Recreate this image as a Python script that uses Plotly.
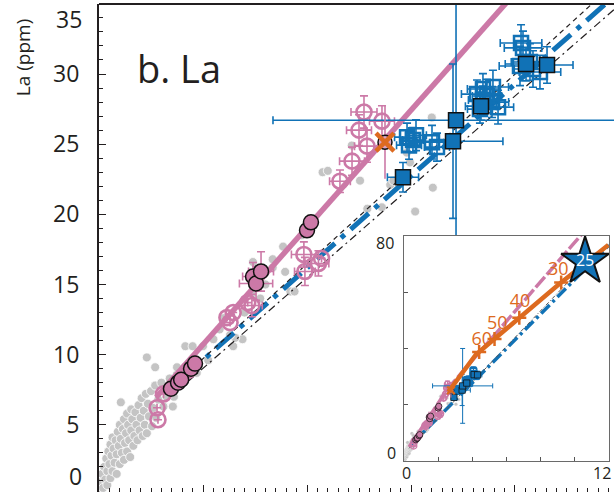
import plotly.graph_objects as go

PINK = "#CC79A7"
BLUE = "#1172B6"
ORANGE = "#DD6A1F"
GRAY = "#C4C4C4"
INK = "#231F20"
FONT = "Open Sans"

# ---------------- data (main panel, x arbitrary units, y = La ppm) ----------------
gray_x = [0.01, 0.02, 0.03, 0.04, 0.05, 0.06, 0.07, 0.08, 0.08, 0.09,
          0.10, 0.11, 0.11, 0.12, 0.13, 0.13, 0.14, 0.15, 0.16, 0.17,
          0.17, 0.18, 0.19, 0.20, 0.20, 0.21, 0.22, 0.23, 0.24, 0.24,
          0.25, 0.26, 0.27, 0.27, 0.28, 0.29, 0.30, 0.31, 0.31, 0.32,
          0.33, 0.34, 0.35, 0.36, 0.37, 0.38, 0.39, 0.40, 0.41, 0.42,
          0.43, 0.44, 0.45, 0.46, 0.47, 0.48, 0.50, 0.51, 0.52, 0.54,
          0.55, 0.57, 0.60, 0.62, 0.21, 0.65, 0.68, 0.72, 0.75, 0.80,
          0.46, 0.54, 0.75, 0.83, 0.90, 1.00, 1.10, 1.16, 1.29, 1.38,
          1.31, 1.26, 1.67, 1.67, 1.79, 1.84, 1.88, 1.48, 1.77, 1.48,
          2.43, 2.15, 2.20, 2.51, 2.96, 2.99, 2.80, 2.83, 2.58, 2.72,
          3.04, 3.21, 3.20, 0.94, 0.78, 0.65, 0.71, 1.40, 1.55, 1.60,
          1.95, 1.05, 1.20]
gray_y = [0.3, 0.9, 1.5, 0.5, 2.0, 1.1, 2.6, 0.7, 1.7, 3.1,
          2.2, 1.2, 3.6, 2.8, 1.7, 4.1, 3.3, 2.3, 3.9, 1.5,
          2.9, 4.5, 3.5, 2.2, 5.0, 4.0, 3.0, 4.7, 2.5, 5.4,
          3.7, 4.4, 3.1, 5.8, 5.0, 3.9, 2.7, 4.6, 6.1, 5.4,
          3.5, 4.2, 5.9, 5.0, 3.9, 6.4, 4.6, 5.5, 6.9, 4.2,
          6.0, 5.0, 7.2, 4.4, 6.5, 5.6, 7.4, 4.9, 6.2, 7.8,
          5.5, 6.8, 8.0, 6.3, 6.6, 7.2, 8.3, 7.0, 8.6, 8.2,
          9.8, 9.1, 9.1, 10.6, 10.6, 10.6, 11.1, 11.8, 10.6, 11.1,
          11.2, 11.4, 16.2, 16.8, 15.9, 14.5, 14.5, 14.4, 17.7, 16.6,
          24.9, 23.0, 23.1, 22.4, 24.4, 23.7, 22.1, 22.4, 20.4, 20.5,
          20.2, 21.9, 26.9, 8.7, 8.4, 7.0, 6.3, 13.0, 14.0, 15.0,
          18.5, 9.6, 12.6]

# pink open circles
po_x = [0.558, 0.567, 0.62, 0.86, 1.23, 1.29, 1.26, 1.47, 1.43, 1.97,
        1.98, 2.11, 2.14, 2.548, 2.721, 2.50, 2.577, 2.433, 2.317]
po_y = [6.21, 5.36, 7.2, 8.9, 12.64, 13.0, 12.29, 13.5, 13.71, 17.14,
        15.93, 16.5, 16.86, 27.29, 26.64, 26.0, 24.86, 23.79, 22.36]
po_ex = [0, 0, 0, 0, 0, 0, 0, 0.1, 0, 0.12,
         0.1, 0.1, 0, 0.125, 0.12, 0.12, 0.12, 0.12, 0.1]
po_ey = [0, 0, 0, 0, 0, 0, 0, 0.8, 0, 0.9,
         1.0, 0.9, 0, 1.15, 1.1, 1.1, 1.15, 1.0, 0.8]

# pink filled circles (black edge)
pf_x = [0.692, 0.76, 0.79, 0.885, 0.923, 1.481, 1.51, 1.558, 2.0, 2.038]
pf_y = [7.57, 8.0, 8.21, 9.0, 9.36, 15.57, 15.07, 15.93, 18.86, 19.43]
pf_ex = [0, 0, 0, 0, 0, 0.1, 0.16, 0.12, 0, 0]
pf_ey = [0, 0, 0, 0, 0, 1.0, 1.2, 1.4, 0, 0]

# mixing end-member (orange cross)
mix_x = [2.75]
mix_y = [25.14]
mix_ey = [2.6]

# blue filled squares
bf_x = [2.923, 3.404, 3.433, 3.673, 4.106, 4.308]
bf_y = [22.64, 25.21, 26.71, 27.71, 30.71, 30.64]
bf_ex = [0.15, 0.48, 1.76, 0.15, 0.2, 0.25]
bf_ey = [1.05, 5.5, 13.3, 1.0, 1.2, 1.3]

# blue open squares
bo_x = [2.962, 3.019, 2.981, 3.048, 3.202, 3.25,
        3.692, 3.635, 3.731, 3.779, 3.837, 3.692, 3.788, 3.663,
        4.058, 4.077, 4.048, 4.173, 4.24, 4.144]
bo_y = [25.5, 25.29, 24.93, 25.64, 25.14, 24.79,
        28.93, 28.57, 28.43, 28.0, 27.64, 28.14, 29.07, 27.5,
        32.21, 31.86, 30.57, 30.36, 30.14, 30.86]
bo_ex = [0.12, 0.1, 0.12, 0.1, 0.14, 0.12,
         0.15, 0.15, 0.14, 0.16, 0.15, 0.14, 0.15, 0.12,
         0.2, 0.18, 0.2, 0.18, 0.2, 0.18]
bo_ey = [1.0, 0.9, 1.0, 1.1, 1.2, 1.0,
         1.1, 1.0, 1.2, 1.1, 1.2, 1.0, 1.2, 1.0,
         1.3, 1.2, 1.4, 1.3, 1.2, 1.3]

# model lines (main panel)
pink_line_x = [0.55, 4.0]
pink_line_y = [6.96, 35.77]
blue_line_x = [0.8, 5.0]
blue_line_y = [8.3, 35.85]
blk1_x = [0.85, 4.8]
blk1_y = [8.7, 35.4]
blk2_x = [0.85, 5.0]
blk2_y = [8.05, 34.9]

# inset lines
in_pink_x = [0.3, 2.6, 5.4, 10.3, 10.6]
in_pink_y = [5.0, 26.0, 45.5, 80.0, 82.0]
in_blue_x = [0.45, 12.0]
in_blue_y = [6.0, 76.8]
in_blk_x = [0.3, 11.0]
in_blk_y = [4.5, 72.5]
orange_x = [2.6, 4.2, 6.0, 9.0, 11.96]
orange_y = [24.6, 37.8, 47.0, 62.5, 76.8]
orange_mark_x = [4.4, 5.3, 6.75, 9.2]
orange_mark_y = [38.8, 43.4, 50.9, 63.5]
orange_lab_x = [4.55, 5.46, 6.79, 9.03]
orange_lab_y = [43.0, 48.4, 56.3, 67.7]
orange_labels = ["60", "50", "40", "30"]
star_x = [10.6]
star_y = [70.9]
star_label = ["25"]

fig = go.Figure()


def add_gray(xa, ya, s, lw_scale):
    fig.add_trace(go.Scatter(x=gray_x, y=gray_y, mode="markers", xaxis=xa, yaxis=ya,
                             marker=dict(color=GRAY, size=9 * s, line=dict(color="white", width=0.8 * lw_scale)),
                             showlegend=False, hoverinfo="skip"))


def add_lines_main():
    fig.add_trace(go.Scatter(x=pink_line_x, y=pink_line_y, mode="lines",
                             line=dict(color=PINK, width=5.5), showlegend=False, hoverinfo="skip"))
    fig.add_trace(go.Scatter(x=blue_line_x, y=blue_line_y, mode="lines",
                             line=dict(color=BLUE, width=5, dash="24px,8px,5px,8px"),
                             showlegend=False, hoverinfo="skip"))
    fig.add_trace(go.Scatter(x=blk1_x, y=blk1_y, mode="lines",
                             line=dict(color=INK, width=1.2, dash="5px,4px"),
                             showlegend=False, hoverinfo="skip"))
    fig.add_trace(go.Scatter(x=blk2_x, y=blk2_y, mode="lines",
                             line=dict(color=INK, width=1.2, dash="8px,4px,2px,4px"),
                             showlegend=False, hoverinfo="skip"))


def add_lines_inset():
    kw = dict(xaxis="x2", yaxis="y2", showlegend=False, hoverinfo="skip", mode="lines")
    fig.add_trace(go.Scatter(x=in_pink_x, y=in_pink_y, line=dict(color=PINK, width=3.5, dash="14px,3px"), **kw))
    fig.add_trace(go.Scatter(x=in_blue_x, y=in_blue_y, line=dict(color=BLUE, width=3.5, dash="12px,4px,3px,4px"), **kw))
    fig.add_trace(go.Scatter(x=in_blk_x, y=in_blk_y, line=dict(color="#555555", width=1, dash="4px,2px,1px,2px"), **kw))


def add_points(xa, ya, s, lw_scale, ebw, cap):
    kw = dict(xaxis=xa, yaxis=ya, mode="markers", showlegend=False, hoverinfo="skip")
    fig.add_trace(go.Scatter(x=bo_x, y=bo_y,
                             error_x=dict(type="data", array=bo_ex, color=BLUE, thickness=ebw, width=cap),
                             error_y=dict(type="data", array=bo_ey, color=BLUE, thickness=ebw, width=cap),
                             marker=dict(symbol="square-open", color=BLUE, size=14 * s,
                                         line=dict(color=BLUE, width=2.5 * lw_scale)), **kw))
    fig.add_trace(go.Scatter(x=po_x, y=po_y,
                             error_x=dict(type="data", array=po_ex, color=PINK, thickness=ebw, width=cap),
                             error_y=dict(type="data", array=po_ey, color=PINK, thickness=ebw, width=cap),
                             marker=dict(symbol="circle-open", color=PINK, size=15 * s,
                                         line=dict(color=PINK, width=2.6 * lw_scale)), **kw))
    fig.add_trace(go.Scatter(x=bf_x, y=bf_y,
                             error_x=dict(type="data", array=bf_ex, color=BLUE, thickness=ebw, width=cap),
                             error_y=dict(type="data", array=bf_ey, color=BLUE, thickness=ebw, width=cap),
                             marker=dict(symbol="square", color=BLUE, size=15 * s,
                                         line=dict(color="#111111", width=1.5 * lw_scale)), **kw))
    fig.add_trace(go.Scatter(x=pf_x, y=pf_y,
                             error_x=dict(type="data", array=pf_ex, color=PINK, thickness=ebw, width=cap),
                             error_y=dict(type="data", array=pf_ey, color=PINK, thickness=ebw, width=cap),
                             marker=dict(symbol="circle", color=PINK, size=15 * s,
                                         line=dict(color="#111111", width=1.5 * lw_scale)), **kw))
    fig.add_trace(go.Scatter(x=mix_x, y=mix_y,
                             error_y=dict(type="data", array=mix_ey, color=PINK, thickness=ebw, width=0),
                             marker=dict(symbol="circle", color="#D9A3C4", size=14 * s,
                                         line=dict(color="#111111", width=1.5 * lw_scale)), **kw))
    fig.add_trace(go.Scatter(x=mix_x, y=mix_y,
                             marker=dict(symbol="x-thin", color=ORANGE, size=18 * s,
                                         line=dict(color=ORANGE, width=4.5 * lw_scale)), **kw))


# ---- main panel ----
add_gray("x", "y", 1.0, 1.0)
add_lines_main()
add_points("x", "y", 1.0, 1.0, 1.6, 4)

# ---- inset ----
add_gray("x2", "y2", 0.4, 0.4)
add_lines_inset()
add_points("x2", "y2", 0.42, 0.5, 1.0, 2.5)
fig.add_trace(go.Scatter(x=orange_x, y=orange_y, mode="lines", xaxis="x2", yaxis="y2",
                         line=dict(color=ORANGE, width=4.5), showlegend=False, hoverinfo="skip"))
fig.add_trace(go.Scatter(x=orange_mark_x, y=orange_mark_y, mode="markers", xaxis="x2", yaxis="y2",
                         marker=dict(symbol="cross-thin", color=ORANGE, size=10,
                                     line=dict(color=ORANGE, width=2.5)),
                         showlegend=False, hoverinfo="skip"))
fig.add_trace(go.Scatter(x=orange_lab_x, y=orange_lab_y, mode="text", xaxis="x2", yaxis="y2",
                         text=orange_labels, textposition="middle center",
                         textfont=dict(family=FONT, size=18, color=ORANGE),
                         showlegend=False, hoverinfo="skip"))
fig.add_trace(go.Scatter(x=star_x, y=star_y, mode="markers+text", xaxis="x2", yaxis="y2",
                         text=star_label, textposition="middle center",
                         textfont=dict(family=FONT, size=16, color="white"),
                         marker=dict(symbol="star", color=BLUE, size=36,
                                     line=dict(color="#111111", width=2)),
                         showlegend=False, hoverinfo="skip", cliponaxis=False))

fig.update_layout(
    width=614, height=492,
    margin=dict(l=99, r=0, t=4, b=0),
    paper_bgcolor="white", plot_bgcolor="white",
    font=dict(family=FONT, color=INK),
    xaxis=dict(domain=[0, 1], range=[0, 4.952], showline=False, showgrid=False, zeroline=False,
               ticks="inside", ticklen=7, tickwidth=1.3, tickcolor=INK, tick0=0, dtick=1,
               showticklabels=False,
               minor=dict(ticks="inside", ticklen=4, tickwidth=1.3, tickcolor=INK, dtick=0.1, tick0=0)),
    yaxis=dict(domain=[0, 1], range=[0.21, 34.99], showline=True, linewidth=2, linecolor=INK,
               showgrid=False, zeroline=False,
               ticks="inside", ticklen=7, tickwidth=1.3, tickcolor=INK, tick0=0, dtick=5,
               tickfont=dict(family=FONT, size=23, color=INK), ticklabelstandoff=13,
               minor=dict(ticks="inside", ticklen=4, tickwidth=1.3, tickcolor=INK, dtick=1, tick0=0)),
    xaxis2=dict(domain=[0.5922, 0.9903], range=[0, 12], anchor="y2", showline=True, mirror=True,
                linewidth=1, linecolor="#6a6a6a", showgrid=False, zeroline=False,
                ticks="inside", ticklen=4, tickcolor="#555555", tickvals=[0, 2, 4, 6, 8, 10, 12],
                showticklabels=False),
    yaxis2=dict(domain=[0.0635, 0.5246], range=[0, 80], anchor="x2", showline=True, mirror=True,
                linewidth=1, linecolor="#6a6a6a", showgrid=False, zeroline=False,
                ticks="inside", ticklen=4, tickcolor="#555555", tickvals=[0, 20, 40, 60, 80],
                showticklabels=False),
    shapes=[dict(type="line", xref="paper", yref="paper", x0=0, x1=1, y0=1, y1=1,
                 line=dict(color=INK, width=2))],
    annotations=[
        dict(text="La (ppm)", xref="paper", yref="paper", x=(23 - 99) / 515, y=0.889,
             textangle=-90, showarrow=False, font=dict(family=FONT, size=19, color=INK),
             xanchor="center", yanchor="middle"),
        dict(text="b. La", xref="x", yref="y", x=0.35, y=30.45, showarrow=False,
             font=dict(family=FONT, size=38, color=INK), xanchor="left", yanchor="middle"),
        dict(text="35", xref="paper", yref="paper", x=(84 - 99) / 515, y=1 - (19 - 4) / 488,
             showarrow=False, font=dict(family=FONT, size=23, color=INK), xanchor="right", yanchor="middle"),
        dict(text="0", xref="paper", yref="paper", x=(84 - 99) / 515, y=1 - (476 - 4) / 488,
             showarrow=False, font=dict(family=FONT, size=23, color=INK), xanchor="right", yanchor="middle"),
        dict(text="0", xref="paper", yref="paper", x=(398 - 99) / 515, y=1 - (453 - 4) / 488,
             showarrow=False, font=dict(family=FONT, size=16, color=INK), xanchor="right", yanchor="middle"),
        dict(text="80", xref="paper", yref="paper", x=(396 - 99) / 515, y=1 - (243 - 4) / 488,
             showarrow=False, font=dict(family=FONT, size=16, color=INK), xanchor="right", yanchor="middle"),
        dict(text="0", xref="paper", yref="paper", x=(406.5 - 99) / 515, y=1 - (473 - 4) / 488,
             showarrow=False, font=dict(family=FONT, size=16, color=INK), xanchor="center", yanchor="middle"),
        dict(text="12", xref="paper", yref="paper", x=(601.5 - 99) / 515, y=1 - (473 - 4) / 488,
             showarrow=False, font=dict(family=FONT, size=16, color=INK), xanchor="center", yanchor="middle"),
    ],
)

fig.write_html("out.html")
